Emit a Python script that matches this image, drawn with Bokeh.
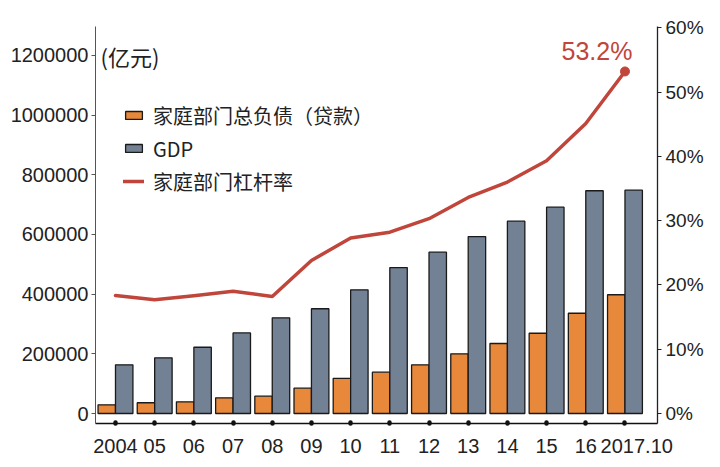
from bokeh.plotting import figure
from bokeh.models import (Range1d, LinearAxis, FixedTicker, PrintfTickFormatter,
                          Legend, LegendItem, Label, ColumnDataSource)
from bokeh.embed import file_html
from bokeh.resources import INLINE

# ---- data ----
years = ["2004", "05", "06", "07", "08", "09", "10", "11", "12", "13", "14", "15", "16", "2017.10"]
debt = [29000, 36000, 39000, 52600, 58000, 85000, 118000, 138500, 163000, 200000, 234600, 269000, 336000, 398000]
gdp = [163000, 186700, 222000, 270000, 320800, 351000, 414600, 489000, 540700, 593000, 644700, 691600, 746500, 748600]
leverage = [18.35, 17.7, 18.3, 19.0, 18.2, 23.8, 27.3, 28.2, 30.3, 33.6, 36.0, 39.3, 45.1, 53.2]
left_ticks = [0, 200000, 400000, 600000, 800000, 1000000, 1200000]
right_ticks = [0, 10, 20, 30, 40, 50, 60]

ORANGE = "#E8883A"
GRAY = "#738195"
RED = "#C0453A"
FONT = "Liberation Sans"

idx = list(range(len(years)))
# label positions: the last label is nudged right, as in the original
label_pos = idx[:-1] + [idx[-1] + 0.3]
src = ColumnDataSource(dict(
    x=idx,
    xd=[i - 0.2225 for i in idx],
    xg=[i + 0.2225 for i in idx],
    debt=debt, gdp=gdp, lev=leverage,
))

YMIN, YMAX = -33500, 1297000
p = figure(width=720, height=467, output_backend="svg", toolbar_location=None,
           x_range=Range1d(-0.51, 13.83), y_range=Range1d(YMIN, YMAX),
           min_border_left=95, min_border_right=63, min_border_top=26, min_border_bottom=44)
p.extra_y_ranges = {"pct": Range1d(-1.555, 60.19)}
p.outline_line_color = None
p.xgrid.visible = False
p.ygrid.visible = False
p.background_fill_color = "white"

r_debt = p.vbar(x="xd", top="debt", bottom=0, width=0.445, source=src,
                fill_color=ORANGE, line_color="#1a1a1a", line_width=1.3)
r_gdp = p.vbar(x="xg", top="gdp", bottom=0, width=0.445, source=src,
               fill_color=GRAY, line_color="#1a1a1a", line_width=1.3)
r_lev = p.line(x="x", y="lev", source=src, y_range_name="pct",
               line_color=RED, line_width=3.5, line_join="round", line_cap="round")
p.scatter(x=[idx[-1]], y=[leverage[-1]], y_range_name="pct", size=9,
          fill_color=RED, line_color=RED)

# main x axis: line plus dot-shaped ticks, no labels
xa = p.xaxis[0]
xa.ticker = FixedTicker(ticks=idx)
xa.major_label_text_font_size = "0px"
xa.major_label_text_color = None
xa.major_label_standoff = 0
xa.major_tick_line_color = "#111"
xa.major_tick_line_width = 4.5
xa.major_tick_line_cap = "round"
xa.major_tick_in = 1
xa.major_tick_out = 0
xa.minor_tick_line_color = None
xa.axis_line_color = "#111"
xa.axis_line_width = 1.5

# label axis below
la = LinearAxis(ticker=FixedTicker(ticks=label_pos),
                major_label_overrides={k: t for k, t in zip(label_pos, years)})
la.axis_line_color = None
la.major_tick_line_color = None
la.minor_tick_line_color = None
la.major_tick_in = 0
la.major_tick_out = 0
la.major_label_standoff = 15
la.major_label_text_font = FONT
la.major_label_text_font_size = "20px"
la.major_label_text_color = "#222"
p.add_layout(la, "below")

ya = p.yaxis[0]
ya.ticker = FixedTicker(ticks=left_ticks)
ya.formatter = PrintfTickFormatter(format="%d")
ya.minor_tick_line_color = None
ya.major_tick_in = 0
ya.major_tick_out = 4
ya.axis_line_color = "#555"
ya.major_tick_line_color = "#555"
ya.major_label_standoff = 3
ya.major_label_text_font = FONT
ya.major_label_text_font_size = "20px"
ya.major_label_text_color = "#222"

ra = LinearAxis(y_range_name="pct", ticker=FixedTicker(ticks=right_ticks),
                formatter=PrintfTickFormatter(format="%d%%"))
ra.minor_tick_line_color = None
ra.major_tick_in = 0
ra.major_tick_out = 4
ra.axis_line_color = "#222"
ra.axis_line_width = 1.3
ra.major_tick_line_color = "#222"
ra.major_label_standoff = 4
ra.major_label_text_font = FONT
ra.major_label_text_font_size = "19px"
ra.major_label_text_color = "#222"
p.add_layout(ra, "right")

# legend
legend = Legend(items=[
    LegendItem(label="家庭部门总负债（贷款）", renderers=[r_debt]),
    LegendItem(label="GDP", renderers=[r_gdp]),
    LegendItem(label="家庭部门杠杆率", renderers=[r_lev]),
], location=(28, 227))
legend.label_text_font = "Noto Sans CJK SC"
legend.label_text_font_size = "20px"
legend.label_text_color = "#222"
legend.glyph_width = 21
legend.glyph_height = 10
legend.label_height = 30
legend.spacing = 3
legend.label_standoff = 9
legend.padding = 0
legend.margin = 0
legend.border_line_color = None
legend.background_fill_alpha = 0
p.add_layout(legend)

p.add_layout(Label(x=5, y=368, x_units="screen", y_units="screen", text="(亿元)",
                   text_font="Noto Sans CJK SC", text_font_size="22px",
                   text_color="#222", text_baseline="middle"))

p.add_layout(Label(x=idx[-1], y=leverage[-1], y_range_name="pct", text="53.2%",
                   x_offset=-28, y_offset=20, text_align="center", text_baseline="middle",
                   text_font=FONT, text_font_size="25px", text_color=RED))

open("out.html", "w").write(file_html(p, INLINE))
